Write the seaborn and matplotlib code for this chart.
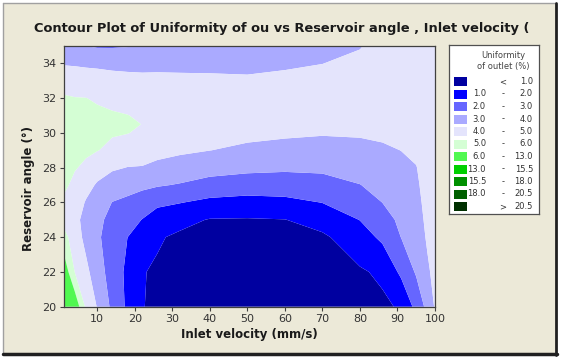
import numpy as np
import matplotlib
matplotlib.use('Agg')
import matplotlib.pyplot as plt
import seaborn as sns
from matplotlib.patches import Rectangle
from matplotlib.lines import Line2D

# Grid
velocity = [1, 4, 7, 10, 14, 18, 22, 26, 32, 40, 50, 60, 70, 80, 86, 91, 95, 98, 100]
angle = [20, 22, 24, 25, 26, 27, 28, 29, 30, 30.5, 31, 32, 33, 34, 35]

# uniformity of outlet (%), one list per velocity, angle from 20 up to 35
uniformity_cols = [
    [8.0, 6.79, 5.36, 4.73, 4.88, 5.16, 5.4, 5.48, 5.56, 5.6, 5.44, 5.11, 4.56, 3.93, 3.4],
    [6.8, 4.98, 4.49, 4.25, 4.53, 4.82, 5.05, 5.2, 5.35, 5.4, 5.19, 5.03, 4.51, 3.9, 3.2],
    [4.8, 4.24, 3.72, 3.71, 3.92, 4.34, 4.87, 5.11, 5.26, 5.3, 5.18, 5.01, 4.46, 3.85, 3.0],
    [3.95, 3.45, 3.15, 3.2, 3.52, 3.89, 4.45, 5.03, 5.19, 5.24, 5.15, 4.91, 4.41, 3.82, 2.9],
    [2.78, 2.56, 2.54, 2.75, 2.98, 3.54, 4.12, 4.8, 5.07, 5.14, 5.08, 4.79, 4.33, 3.76, 2.9],
    [1.83, 1.8, 2.01, 2.4, 2.81, 3.34, 3.98, 4.51, 5.03, 5.1, 5.02, 4.65, 4.26, 3.75, 2.95],
    [1.03, 1.04, 1.61, 1.97, 2.56, 3.2, 3.96, 4.35, 4.85, 4.99, 4.88, 4.5, 4.2, 3.77, 3.1],
    [0.85, 0.9, 1.09, 1.59, 2.18, 3.09, 3.82, 4.23, 4.54, 4.72, 4.85, 4.52, 4.19, 3.8, 3.3],
    [0.6, 0.7, 0.85, 1.26, 2.04, 2.93, 3.63, 4.14, 4.44, 4.6, 4.75, 4.46, 4.16, 3.81, 3.4],
    [0.45, 0.5, 0.65, 0.95, 1.77, 2.65, 3.38, 4.01, 4.33, 4.49, 4.64, 4.46, 4.15, 3.8, 3.4],
    [0.4, 0.45, 0.6, 0.93, 1.67, 2.5, 3.24, 3.82, 4.23, 4.39, 4.55, 4.44, 4.13, 3.76, 3.35],
    [0.45, 0.5, 0.65, 0.98, 1.76, 2.5, 3.16, 3.71, 4.14, 4.3, 4.45, 4.46, 4.19, 3.88, 3.5],
    [0.55, 0.62, 0.85, 1.38, 2.02, 2.63, 3.19, 3.65, 4.07, 4.22, 4.36, 4.54, 4.27, 3.99, 3.65],
    [0.75, 0.9, 1.55, 2.02, 2.5, 2.98, 3.37, 3.74, 4.1, 4.25, 4.4, 4.7, 4.45, 4.2, 3.95],
    [0.85, 1.15, 2.2, 2.6, 3.01, 3.3, 3.58, 3.87, 4.16, 4.31, 4.46, 4.75, 4.62, 4.48, 4.35],
    [1.1, 2.21, 3.02, 3.21, 3.41, 3.61, 3.8, 4.01, 4.27, 4.4, 4.53, 4.8, 4.7, 4.6, 4.5],
    [2.3, 3.11, 3.39, 3.54, 3.68, 3.82, 3.96, 4.22, 4.51, 4.66, 4.8, 4.75, 4.7, 4.65, 4.6],
    [3.3, 3.84, 4.14, 4.25, 4.35, 4.44, 4.53, 4.61, 4.7, 4.7, 4.7, 4.7, 4.7, 4.7, 4.7],
    [4.1, 4.3, 4.45, 4.5, 4.55, 4.6, 4.65, 4.7, 4.75, 4.75, 4.75, 4.75, 4.75, 4.75, 4.75],
]

levels = [0, 1, 2, 3, 4, 5, 6, 13, 15.5, 18, 20.5, 30]
level_colors = ['#0000A0', '#0000FF', '#6666FF', '#AAAAFF', '#E4E4FC', '#D4FED4',
                '#50F850', '#00D000', '#009000', '#006000', '#003000']
legend_lo = ['', '1.0', '2.0', '3.0', '4.0', '5.0', '6.0', '13.0', '15.5', '18.0', '']
legend_sep = ['<', '-', '-', '-', '-', '-', '-', '-', '-', '-', '>']
legend_hi = ['1.0', '2.0', '3.0', '4.0', '5.0', '6.0', '13.0', '15.5', '18.0', '20.5', '20.5']

sns.set_style('ticks')
plt.rcParams['font.family'] = ['DejaVu Sans']

W, H = 563, 360
bg = '#ECE9D8'
fig = plt.figure(figsize=(W / 100, H / 100), dpi=100, facecolor='white')

# window-like frame
fig.patches.append(Rectangle((3 / W, 1 - 354 / H), 553 / W, 351 / H, transform=fig.transFigure,
                             facecolor=bg, edgecolor='none', zorder=-5))
fig.add_artist(Line2D([3 / W, 3 / W], [1 - 354 / H, 1 - 3 / H], color='#A0A0A0', lw=1))
fig.add_artist(Line2D([3 / W, 556 / W], [1 - 3 / H, 1 - 3 / H], color='#A0A0A0', lw=1))
fig.add_artist(Line2D([556 / W, 556 / W], [1 - 355 / H, 1 - 3 / H], color='#202020', lw=2))
fig.add_artist(Line2D([3 / W, 557 / W], [1 - 354 / H, 1 - 354 / H], color='#202020', lw=2.5))

ax = fig.add_axes([63.5 / W, 1 - 306.7 / H, (435 - 63.5) / W, (306.7 - 46) / H])
Z = np.array(uniformity_cols).T
ax.contourf(velocity, angle, Z, levels=levels, colors=level_colors, antialiased=True)
ax.set_xlim(1, 100)
ax.set_ylim(20, 35)
ax.set_xticks(range(10, 101, 10))
ax.set_yticks(range(20, 35, 2))
ax.tick_params(direction='out', length=3, width=0.8, color='#404040',
               labelcolor='#333333', labelsize=8, pad=2)
for s in ax.spines.values():
    s.set_color('#404040')
    s.set_linewidth(0.9)
ax.set_xlabel('Inlet velocity (mm/s)', fontsize=8.5, fontweight='bold', color='#1a1a1a', labelpad=3)
ax.set_ylabel('Reservoir angle (°)', fontsize=8.5, fontweight='bold', color='#1a1a1a')
ax.yaxis.set_label_coords(-0.078, 0.455)

fig.text(282 / W, 1 - 28.5 / H, 'Contour Plot of Uniformity of ou vs Reservoir angle , Inlet velocity (',
         ha='center', va='center', fontsize=9.4, fontweight='bold', color='#1a1a1a')

# legend box
lx0, ly0, lx1, ly1 = 449, 45, 539, 214
lax = fig.add_axes([lx0 / W, 1 - ly1 / H, (lx1 - lx0) / W, (ly1 - ly0) / H])
lax.set_xlim(0, lx1 - lx0)
lax.set_ylim(ly1 - ly0, 0)
lax.set_xticks([])
lax.set_yticks([])
lax.set_facecolor('white')
for s in lax.spines.values():
    s.set_color('#505050')
    s.set_linewidth(0.9)
lax.text(54, 10, 'Uniformity', ha='center', va='center', fontsize=6, color='#444444')
lax.text(54, 21, 'of outlet (%)', ha='center', va='center', fontsize=6, color='#444444')
for i, c in enumerate(level_colors):
    y = 32 + 12.5 * i
    lax.add_patch(Rectangle((5, y), 13, 9, facecolor=c, edgecolor='none'))
    yc = y + 4.5
    lax.text(37, yc, legend_lo[i], ha='right', va='center', fontsize=6, color='#333333')
    lax.text(54, yc, legend_sep[i], ha='center', va='center', fontsize=6, color='#333333')
    lax.text(84, yc, legend_hi[i], ha='right', va='center', fontsize=6, color='#333333')

fig.savefig('out.png', dpi=100, facecolor=fig.get_facecolor())
